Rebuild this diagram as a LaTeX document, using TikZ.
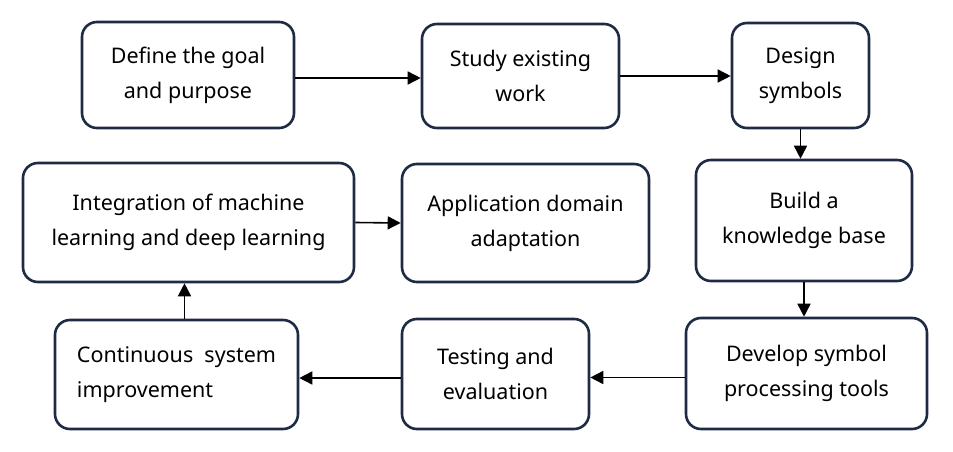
\documentclass[tikz,border=0pt]{standalone}
\usepackage{fontspec}
\setmainfont{Noto Sans}
\usepackage{tikz}
\usepackage{xcolor}
\usetikzlibrary{arrows.meta}
\definecolor{boxline}{HTML}{1F2A44}
\tikzset{
    flow-box/.style = {draw=boxline, fill=white, line width=2.6pt, rectangle, rounded corners=15pt, align=center, font=\fontsize{21.5}{35}\selectfont, inner sep=0pt},
    flow-arrow/.style = {draw=black, line width=1.6pt, -{Triangle[length=13pt,width=13pt]}},
}

\begin{document}
\begin{tikzpicture}[x=1pt, y=-1pt]
\useasboundingbox (0,0) rectangle (953,452);
% top row
\node [flow-box, minimum width=212pt, minimum height=106pt] (goal) at (188,75) {Define the goal\\and purpose};
\node [flow-box, minimum width=197pt, minimum height=104pt] (study) at (520.5,76) {Study existing\\work};
\node [flow-box, minimum width=137pt, minimum height=105pt] (design) at (800.5,75.5) {Design\\symbols};
% middle row
\node [flow-box, minimum width=331pt, minimum height=119pt] (integ) at (188.5,222.5) {Integration of machine\\learning and deep learning};
\node [flow-box, minimum width=247pt, minimum height=118pt] (domain) at (525.5,223) {Application domain\\adaptation};
\node [flow-box, minimum width=216pt, minimum height=121pt] (kbase) at (804,220.5) {Build a\\knowledge base};
% bottom row
\node [flow-box, align=left, minimum width=243pt, minimum height=109pt] (improve) at (176.5,374.5) {Continuous \ system\\improvement};
\node [flow-box, minimum width=187pt, minimum height=110pt] (test) at (495.5,374) {Testing and\\evaluation};
\node [flow-box, minimum width=241pt, minimum height=111pt] (tools) at (806.5,373.5) {Develop symbol\\processing tools};

\draw [flow-arrow] ([yshift=-3pt]goal.east) -- ([yshift=-3pt]goal.east -| study.west);
\draw [flow-arrow] (study.east) -- (study.east -| design.west);
\draw [flow-arrow] (design.south) -- (design.south |- kbase.north);
\draw [flow-arrow] (kbase.south) -- (kbase.south |- tools.north);
\draw [flow-arrow] ([yshift=-4pt]tools.west) -- ([yshift=-4pt]tools.west -| test.east);
\draw [flow-arrow] ([yshift=-4pt]test.west) -- ([yshift=-4pt]test.west -| improve.east);
\draw [flow-arrow] ([xshift=-4pt]integ.south |- improve.north) -- ([xshift=-4pt]integ.south);
\draw [flow-arrow] (integ.east) -- (domain.west);
\end{tikzpicture}
\end{document}
